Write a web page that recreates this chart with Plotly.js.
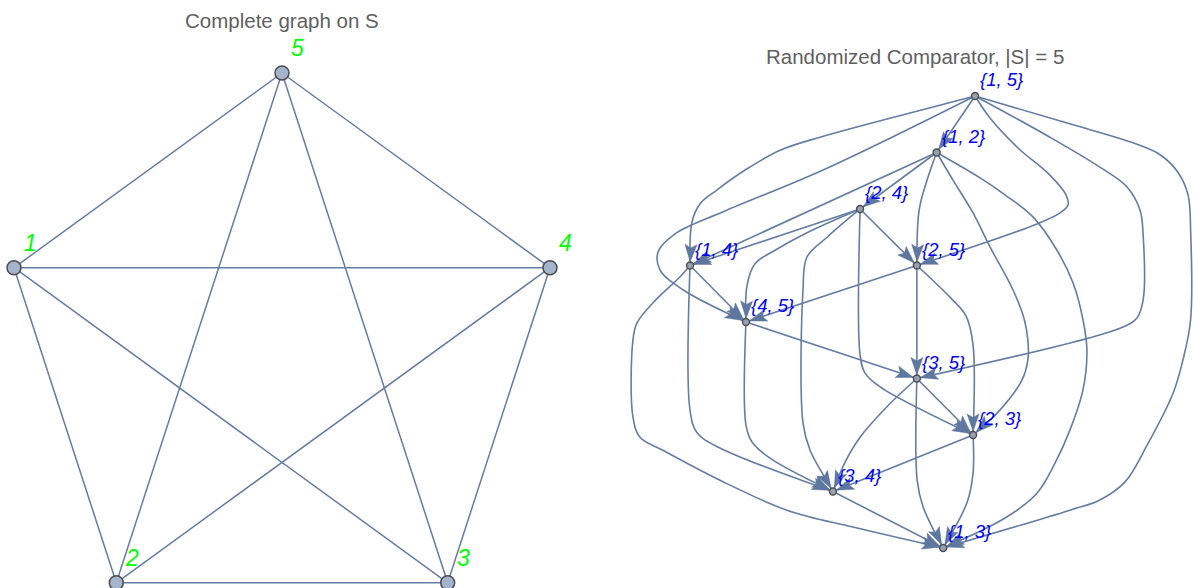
<!DOCTYPE html>
<html><head><meta charset="utf-8">
<script src="https://cdn.plot.ly/plotly-3.0.1.min.js"></script>
<style>html,body{margin:0;padding:0;background:#fff;} #chart{width:1193px;height:588px;}</style>
</head><body><div id="chart"></div>
<script>
// ---------- Left: complete graph on S (unit circumradius pentagon layout) ----------
const kNames = ['1', '2', '3', '4', '5'];
const kX = [-0.951, -0.588, 0.588, 0.951, 0];
const kY = [0.309, -0.809, -0.809, 0.309, 1];

// ---------- Right: randomized comparator (layered digraph) ----------
const cNames = ['{1, 5}', '{1, 2}', '{2, 4}', '{1, 4}', '{2, 5}', '{4, 5}', '{3, 5}', '{2, 3}', '{3, 4}', '{1, 3}'];
const cX = [10.09, 8.73, 6.02, 0, 8.03, 1.98, 8.03, 10.02, 5.06, 8.96];   // column units
const cLayer = [0, 1, 2, 3, 3, 4, 5, 6, 7, 8];                               // layer index

const edgeFrom = [0, 0, 0, 0, 0, 0, 1, 1, 1, 1, 1, 2, 2, 2, 2, 2, 3, 3, 3, 4, 4, 4, 5, 5, 6, 6, 6, 7, 7, 8];
const edgeTo   = [1, 3, 4, 5, 6, 9, 2, 3, 4, 7, 9, 3, 4, 5, 7, 8, 5, 8, 9, 5, 6, 7, 6, 8, 7, 8, 9, 8, 9, 9];
// bend points of each edge route (column units, layer units)
const edgeBends = [
  [],
  [[7.79,0.30],[4.60,0.73],[3.19,0.96],[1.95,1.31],[0.96,1.66],[0.35,1.91],[0.07,2.23]],
  [[10.62,0.39],[11.61,0.92],[12.74,1.40],[13.31,1.75],[13.38,1.93],[13.10,2.07],[12.21,2.28]],
  [[4.71,1.31],[1.17,2.05],[-0.53,2.44],[-1.13,2.76],[-1.06,3.08],[-0.25,3.43]],
  [[12.74,0.73],[14.51,1.26],[15.47,1.61],[15.93,2.02],[16.04,2.46],[16.04,3.61],[15.82,3.93],[15.22,4.11]],
  [[13.35,0.48],[15.68,0.83],[16.64,1.04],[17.27,1.35],[17.63,1.75],[17.72,2.37],[17.72,3.96],[17.45,4.67],[17.10,5.26],[16.18,6.18],[15.40,6.83],[14.51,7.15],[13.45,7.33]],
  [],
  [],
  [[8.39,1.49],[8.11,2.02]],
  [[9.31,1.49],[10.02,2.07],[10.62,2.67],[11.43,3.43],[11.82,3.93],[11.96,4.32],[11.96,4.67],[11.75,5.03],[10.97,5.56]],
  [[10.27,1.45],[11.15,1.75],[12.14,2.14],[12.99,2.73],[13.56,3.31],[13.91,3.96],[14.05,4.50],[13.91,5.20],[13.45,5.91],[12.92,6.50],[12.28,7.03],[11.15,7.47]],
  [],
  [],
  [[4.14,2.42],[3.01,2.73],[2.30,2.97],[2.02,3.35]],
  [[6.02,4.58],[6.19,4.90],[6.73,5.15]],
  [[4.85,2.50],[4.14,2.85],[4.0,3.43],[4.0,5.79],[4.25,6.27],[4.78,6.76]],
  [],
  [[0,5.56],[0.25,5.96],[1.06,6.23]],
  [[-0.35,3.20],[-1.31,3.66],[-1.88,4.02],[-2.02,4.32],[-2.02,5.68],[-1.77,6.04],[-0.96,6.27],[1.06,6.80],[3.43,7.33],[5.77,7.63]],
  [],
  [],
  [[9.20,3.56],[9.77,3.89],[10.02,4.41]],
  [],
  [[1.98,5.82],[2.19,6.12],[2.83,6.41]],
  [],
  [[6.97,5.50],[6.02,6.04],[5.49,6.48]],
  [[8.04,6.80],[8.25,7.27]],
  [],
  [[10.02,6.67],[9.81,7.19]],
  []
];

// ---------- styling / layout ----------
const W = 1193, H = 588;
const edgeColor = 'rgb(100,125,163)';
const headColor = 'rgb(94,119,158)';
const vFill = 'rgb(163,180,204)';
const vLine = 'rgb(77,77,77)';
const FONT = 'Liberation Sans, Arial, sans-serif';

const leftXDom = [0, 0.48], leftYDom = [0, 0.932];
const leftXRange = [-1.0007, 1.0314], leftYRange = [-0.8275, 1.1171];
const rightXDom = [0.5, 1], rightYDom = [0, 0.932];
const rightXRange = [-3.31, 17.805], rightYRange = [8.708, -0.991];

// pixel scale of the right axes (px per unit)
const sx = (rightXDom[1] - rightXDom[0]) * W / (rightXRange[1] - rightXRange[0]);
const sy = (rightYDom[1] - rightYDom[0]) * H / (rightYRange[0] - rightYRange[1]);

const traces = [];

// left edges: all pairs
const lx = [], ly = [];
for (let i = 0; i < kX.length; i++) for (let j = i + 1; j < kX.length; j++) {
  lx.push(kX[i], kX[j], null); ly.push(kY[i], kY[j], null);
}
traces.push({x: lx, y: ly, xaxis: 'x', yaxis: 'y', mode: 'lines', line: {color: edgeColor, width: 1.5}, hoverinfo: 'skip'});

// right edges
const hx = [], hy = [];
for (let e = 0; e < edgeFrom.length; e++) {
  const s = edgeFrom[e], t = edgeTo[e];
  const pts = [[cX[s], cLayer[s]]].concat(edgeBends[e]).concat([[cX[t], cLayer[t]]]);
  traces.push({x: pts.map(p => p[0]), y: pts.map(p => p[1]), xaxis: 'x2', yaxis: 'y2', mode: 'lines',
    line: {color: edgeColor, width: 1.6, shape: 'spline', smoothing: 1}, hoverinfo: 'skip'});
  // arrowhead
  const prev = pts[pts.length - 2], end = pts[pts.length - 1];
  let dx = (end[0] - prev[0]) * sx, dy = (end[1] - prev[1]) * sy;
  const len = Math.hypot(dx, dy); dx /= len; dy /= len;
  const nx = -dy, ny = dx;
  const r = 3.5, L = 17.5, w = 6, notch = 3.5;
  const tip = [-r * dx, -r * dy];
  const base = [tip[0] - L * dx, tip[1] - L * dy];
  const poly = [tip, [base[0] + w * nx, base[1] + w * ny], [tip[0] - (L - notch) * dx, tip[1] - (L - notch) * dy], [base[0] - w * nx, base[1] - w * ny], tip];
  poly.forEach(p => { hx.push(end[0] + p[0] / sx); hy.push(end[1] + p[1] / sy); });
  hx.push(null); hy.push(null);
}
traces.push({x: hx, y: hy, xaxis: 'x2', yaxis: 'y2', mode: 'lines', fill: 'toself', fillcolor: headColor,
  line: {color: headColor, width: 0.5}, hoverinfo: 'skip'});

// vertices
traces.push({x: kX, y: kY, xaxis: 'x', yaxis: 'y', mode: 'markers', cliponaxis: false,
  marker: {size: 14, color: vFill, line: {color: vLine, width: 1.5}}, hoverinfo: 'skip'});
traces.push({x: cX, y: cLayer, xaxis: 'x2', yaxis: 'y2', mode: 'markers', cliponaxis: false,
  marker: {size: 7, color: 'rgb(150,160,178)', line: {color: vLine, width: 1.4}}, hoverinfo: 'skip'});

const annotations = [];
kNames.forEach((n, i) => annotations.push({xref: 'x', yref: 'y', x: kX[i], y: kY[i], text: '<i>' + n + '</i>',
  showarrow: false, xanchor: 'center', yanchor: 'middle', xshift: 16, yshift: 25,
  font: {family: FONT, size: 23, color: 'rgb(0,255,0)'}}));
cNames.forEach((n, i) => annotations.push({xref: 'x2', yref: 'y2', x: cX[i], y: cLayer[i], text: '<i>' + n + '</i>',
  showarrow: false, xanchor: 'left', yanchor: 'middle', xshift: 3, yshift: 16,
  font: {family: FONT, size: 18.5, color: 'rgb(0,0,255)'}}));
annotations.push({xref: 'paper', yref: 'paper', x: 282 / W, y: 1 - 20 / H, text: 'Complete graph on S', showarrow: false,
  xanchor: 'center', yanchor: 'middle', font: {family: FONT, size: 20.5, color: 'rgb(95,95,95)'}});
annotations.push({xref: 'paper', yref: 'paper', x: 915 / W, y: 1 - 56 / H, text: 'Randomized Comparator, |S| = 5', showarrow: false,
  xanchor: 'center', yanchor: 'middle', font: {family: FONT, size: 20.5, color: 'rgb(95,95,95)'}});

const ax = (dom, rng) => ({domain: dom, range: rng, visible: false, showgrid: false, zeroline: false, fixedrange: true});
const layout = {
  width: W, height: H, margin: {l: 0, r: 0, t: 0, b: 0}, showlegend: false,
  paper_bgcolor: '#fff', plot_bgcolor: '#fff',
  xaxis: Object.assign(ax(leftXDom, leftXRange), {anchor: 'y'}),
  yaxis: Object.assign(ax(leftYDom, leftYRange), {anchor: 'x'}),
  xaxis2: Object.assign(ax(rightXDom, rightXRange), {anchor: 'y2'}),
  yaxis2: Object.assign(ax(rightYDom, rightYRange), {anchor: 'x2'}),
  annotations: annotations
};
Plotly.newPlot('chart', traces, layout, {displayModeBar: false, staticPlot: true});
</script></body></html>
